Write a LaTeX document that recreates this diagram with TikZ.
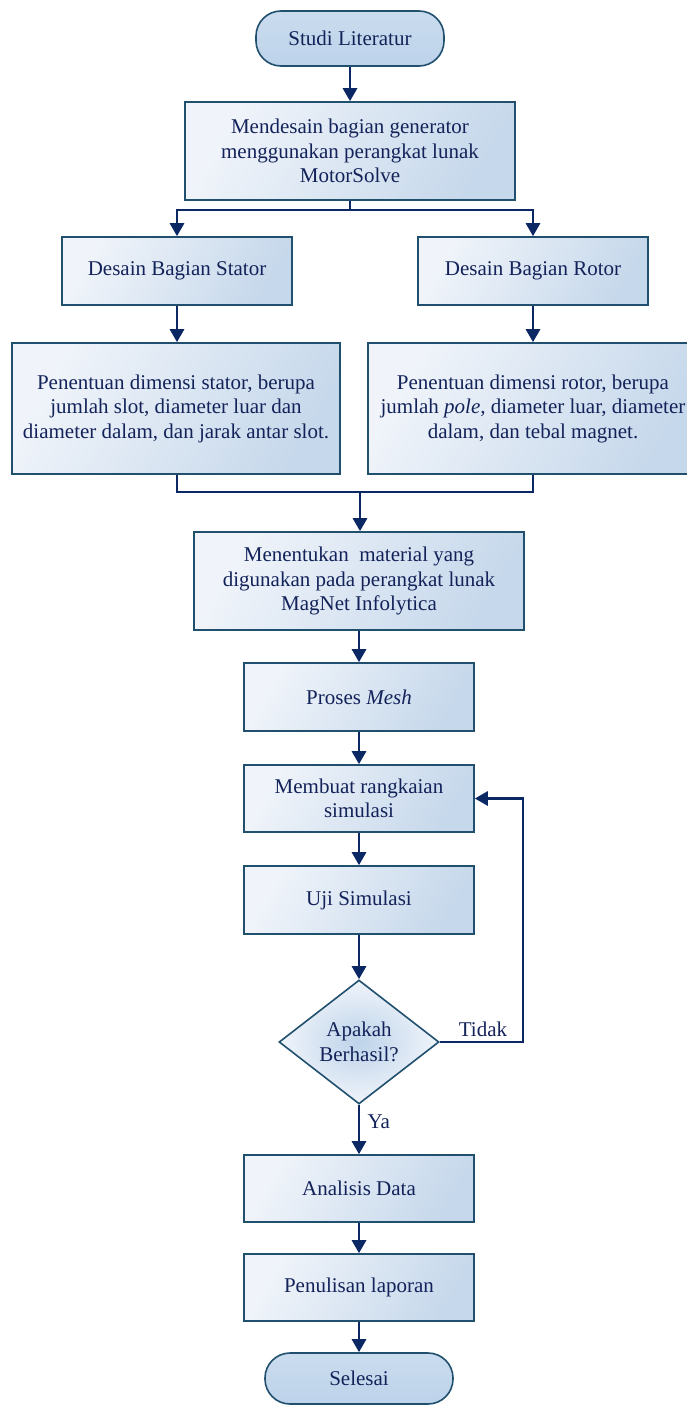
\documentclass[tikz,border=0pt]{standalone}
\usepackage{fontspec}
\setmainfont{Liberation Serif}
\usetikzlibrary{shapes.geometric,arrows.meta}
\definecolor{txt}{HTML}{13235A}
\definecolor{arr}{HTML}{0B2865}
\definecolor{bord}{HTML}{21506F}
\definecolor{boxL}{HTML}{F0F4FA}
\definecolor{boxR}{HTML}{C6D8EB}
\definecolor{term}{HTML}{BDD3EA}
\begin{document}
\begin{tikzpicture}[x=1pt,y=-1pt,
  every node/.style={font=\fontsize{21}{24.5}\selectfont, text=txt, align=center},
  proc/.style={draw=bord, line width=1.6pt, rectangle, left color=boxL, right color=boxR, shading angle=60, inner sep=0pt},
  termb/.style={draw=bord, line width=1.6pt, rectangle, rounded corners=25pt, top color=term!80!white, bottom color=term, inner sep=0pt, minimum width=188pt},
  dec/.style={draw=bord, line width=1.6pt, diamond, inner sep=0pt, inner color=term, outer color=boxL, minimum width=160pt, minimum height=124pt},
  conn/.style={draw=arr, line width=2.8pt},
  flow/.style={conn, -{Triangle[length=13pt,width=14pt]}},
  lbl/.style={font=\fontsize{21}{24}\selectfont}
]
\useasboundingbox (0,0) rectangle (687,1405);
\clip (0,0) rectangle (687,1405);

\node[termb, minimum height=55pt] (start) at (350,38.5) {Studi Literatur};
\node[proc, minimum width=330pt, minimum height=98pt] (design) at (350,151) {Mendesain bagian generator\\menggunakan perangkat lunak\\MotorSolve};
\node[proc, minimum width=230pt, minimum height=68pt] (stator) at (177,271) {Desain Bagian Stator};
\node[proc, minimum width=230pt, minimum height=68pt] (rotor) at (533,271) {Desain Bagian Rotor};
\node[proc, minimum width=328pt, minimum height=131pt] (statorD) at (176,408.5) {Penentuan dimensi stator, berupa\\jumlah slot, diameter luar dan\\diameter dalam, dan jarak antar slot.};
\node[proc, minimum width=330pt, minimum height=131pt] (rotorD) at (533,408.5) {Penentuan dimensi rotor, berupa\\jumlah \textit{pole,} diameter luar, diameter\\dalam, dan tebal magnet.};
\node[proc, minimum width=330pt, minimum height=98pt] (material) at (359,581) {Menentukan\ \ material yang\\digunakan pada perangkat lunak\\MagNet Infolytica};
\node[proc, minimum width=230pt, minimum height=68pt] (mesh) at (359,697) {Proses \textit{Mesh}};
\node[proc, minimum width=230pt, minimum height=67pt] (rangkaian) at (359,798.5) {Membuat rangkaian\\simulasi};
\node[proc, minimum width=230pt, minimum height=68pt] (uji) at (359,900) {Uji Simulasi};
\node[dec] (cek) at (359,1042) {Apakah\\Berhasil?};
\node[proc, minimum width=230pt, minimum height=67pt] (analisis) at (359,1188.5) {Analisis Data};
\node[proc, minimum width=230pt, minimum height=67pt] (laporan) at (359,1287.5) {Penulisan laporan};
\node[termb, minimum height=51pt] (end) at (359,1378.5) {Selesai};

\coordinate (split) at (350,210);
\coordinate (mergeL) at (177,492);
\coordinate (mergeR) at (533,492);
\coordinate (merge) at (360,492);
\coordinate (loop) at (523,1042);

\draw[flow] (start) -- (design);
\draw[conn] (design.south) -- (split);
\draw[flow] (split) -| (stator.north);
\draw[flow] (split) -| (rotor.north);
\draw[flow] (stator.south) -- (stator.south |- statorD.north);
\draw[flow] (rotor) -- (rotorD);
\draw[conn] (statorD.south -| mergeL) -- (mergeL) -- (mergeR) -- (rotorD.south -| mergeR);
\draw[flow] (merge) -- (material.north -| merge);
\draw[flow] (material) -- (mesh);
\draw[flow] (mesh) -- (rangkaian);
\draw[flow] (rangkaian) -- (uji);
\draw[flow] (uji) -- (cek);
\draw[flow] (cek.east) -- (loop) |- (rangkaian.east);
\node[lbl, anchor=south] (tidak) at (483,1040) {Tidak};
\draw[flow] (cek.south) -- (analisis.north);
\node[lbl, anchor=west] (ya) at (364,1122) {Ya};
\draw[flow] (analisis) -- (laporan);
\draw[flow] (laporan) -- (end);
\end{tikzpicture}
\end{document}
